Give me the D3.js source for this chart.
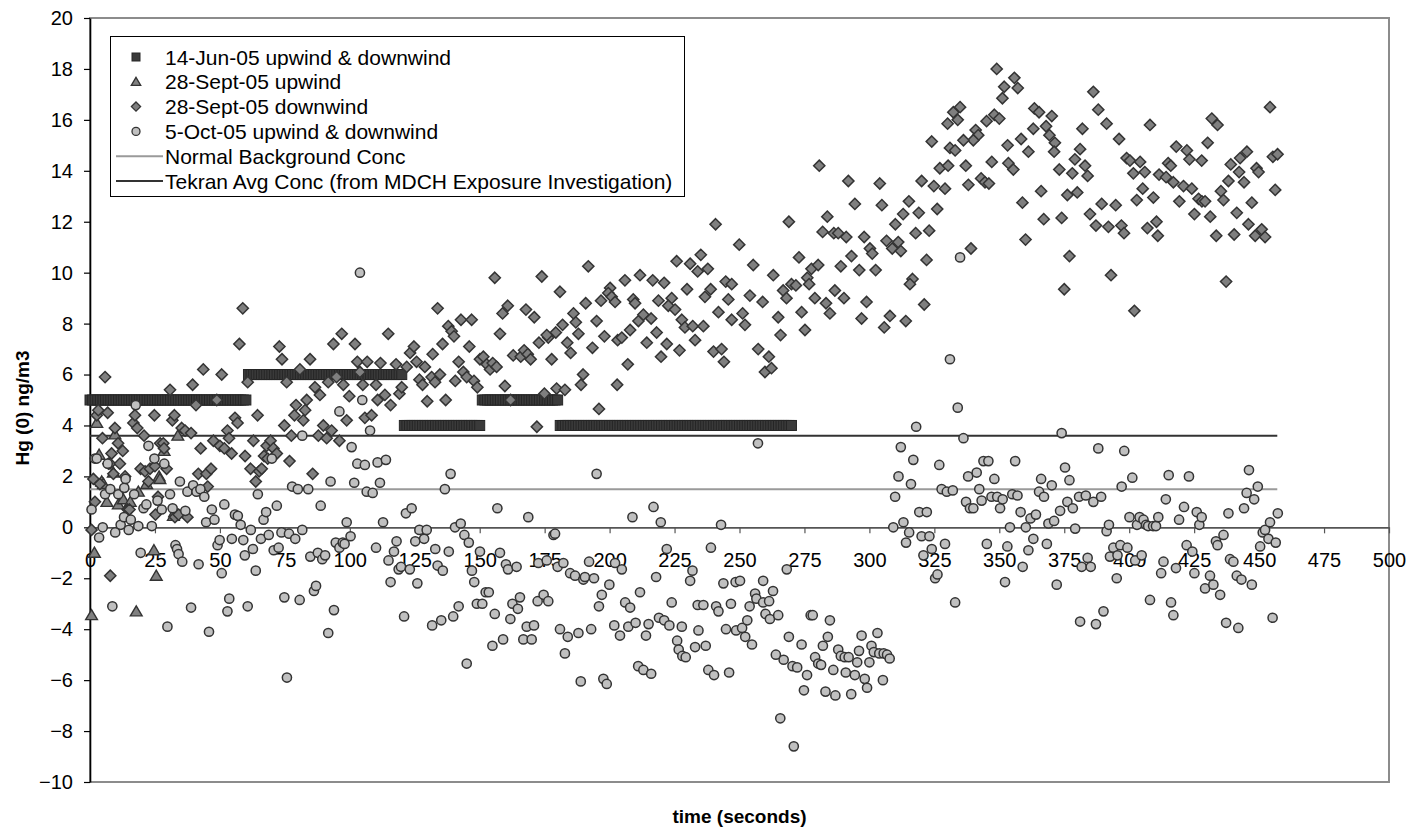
<!DOCTYPE html>
<html>
<head>
<meta charset="utf-8">
<script src="https://cdn.jsdelivr.net/npm/d3@7"></script>
<style>
  body { margin: 0; background: #fff; }
  svg text { font-family: "Liberation Sans", Arial, Helvetica, sans-serif; }
</style>
</head>
<body>
<svg id="chart" width="1408" height="830"></svg>
<script>
// ---------------- data ----------------
const xTicks = [0, 25, 50, 75, 100, 125, 150, 175, 200, 225, 250, 275, 300, 325, 350, 375, 400, 425, 450, 475, 500];
const yTicks = [-10, -8, -6, -4, -2, 0, 2, 4, 6, 8, 10, 12, 14, 16, 18, 20];

const legendLabels = [
  "14-Jun-05 upwind & downwind",
  "28-Sept-05 upwind",
  "28-Sept-05 downwind",
  "5-Oct-05 upwind & downwind",
  "Normal Background Conc",
  "Tekran Avg Conc (from MDCH Exposure Investigation)"
];

// 14-Jun-05: one reading per second, index = time (s)
const jun14Values = [
  5,5,5,5,5,5,5,5,5,5,
  5,5,5,5,5,5,5,5,5,5,
  5,5,5,5,5,5,5,5,5,5,
  5,5,5,5,5,5,5,5,5,5,
  5,5,5,5,5,5,5,5,5,5,
  5,5,5,5,5,5,5,5,5,5,
  5,6,6,6,6,6,6,6,6,6,
  6,6,6,6,6,6,6,6,6,6,
  6,6,6,6,6,6,6,6,6,6,
  6,6,6,6,6,6,6,6,6,6,
  6,6,6,6,6,6,6,6,6,6,
  6,6,6,6,6,6,6,6,6,6,
  6,4,4,4,4,4,4,4,4,4,
  4,4,4,4,4,4,4,4,4,4,
  4,4,4,4,4,4,4,4,4,4,
  4,5,5,5,5,5,5,5,5,5,
  5,5,5,5,5,5,5,5,5,5,
  5,5,5,5,5,5,5,5,5,5,
  5,4,4,4,4,4,4,4,4,4,
  4,4,4,4,4,4,4,4,4,4,
  4,4,4,4,4,4,4,4,4,4,
  4,4,4,4,4,4,4,4,4,4,
  4,4,4,4,4,4,4,4,4,4,
  4,4,4,4,4,4,4,4,4,4,
  4,4,4,4,4,4,4,4,4,4,
  4,4,4,4,4,4,4,4,4,4,
  4,4,4,4,4,4,4,4,4,4,
  4
];

// 28-Sept-05 upwind [time, value]
const sep28Upwind = [
  [0.6,-3.45],[1.7,-1.0],[2.6,4.1],[3.5,2.85],[4.5,1.8],[5.2,1.7],[6.5,1.0],[9.0,2.15],[9.6,3.65],
  [10.9,0.9],[12.8,1.1],[15.5,1.0],[17.8,-3.3],[18.6,1.4],[21.8,1.7],[24.6,-0.9],[25.5,-1.9],
  [26.6,2.0],[26.9,1.9],[28.5,3.0],[32.1,0.45],[32.6,0.6],[33.8,3.6]
];

// 28-Sept-05 downwind [time, value]
const sep28Downwind = [
  [0.6,-0.1],[1.3,1.9],[1.9,1.0],[2.6,4.4],[3.2,4.6],[3.8,1.7],[4.8,3.5],[5.8,5.9],[6.8,4.5],[7.1,2.5],
  [7.7,2.5],[7.8,-1.9],[8.3,2.9],[9.0,2.1],[9.6,3.9],[10.8,3.3],[11.5,2.5],[12.6,3.0],[13.5,2.0],[14.5,0.7],
  [15.2,0.7],[16.7,4.1],[17.3,4.4],[18.2,3.9],[19.5,2.3],[20.8,3.6],[21.2,2.2],[22.5,1.8],[23.1,2.3],[24.8,4.4],
  [25.0,2.4],[25.2,0.5],[26.2,1.2],[27.0,3.3],[28.2,3.3],[28.5,3.1],[29.5,2.3],[30.8,5.4],[31.7,4.2],[32.5,4.4],
  [32.7,0.4],[34.1,0.5],[35.3,3.9],[36.6,3.8],[37.5,0.4],[38.9,3.7],[39.5,5.6],[40.8,4.8],[41.7,2.1],[42.6,3.1],
  [43.6,6.2],[44.8,2.1],[45.3,1.6],[46.6,2.3],[47.5,3.4],[48.8,5.0],[50.0,3.2],[50.7,6.0],[51.7,3.1],[52.9,3.8],
  [53.5,3.5],[54.5,2.9],[55.8,4.3],[56.8,4.1],[57.5,7.2],[58.8,8.6],[59.7,2.8],[60.7,5.7],[61.8,2.3],[62.9,3.4],
  [63.8,1.8],[64.5,4.4],[65.1,2.2],[66.1,2.3],[67.0,2.8],[68.0,3.2],[68.4,2.7],[69.5,3.4],[70.6,3.1],[71.9,2.9],
  [72.9,7.1],[73.9,6.6],[74.8,4.0],[75.7,5.7],[76.8,2.6],[77.5,3.6],[78.7,4.4],[79.3,4.8],[80.8,6.2],
  [84.7,6.6],[83.4,5.0],[86.6,5.5],[88.5,5.2],[82.8,4.6],[82.1,4.2],[89.8,4.0],[87.9,3.6],[91.1,3.5],[93.0,3.8],
  [96.0,3.4],[85.7,2.1],[93.7,7.2],[96.9,7.6],[102.0,7.2],[91.7,5.7],[94.9,5.9],[97.5,5.6],[99.8,5.15],[98.8,4.2],
  [102.9,6.5],[103.9,6.1],[105.0,5.6],[106.7,6.5],[105.8,4.3],[108.4,4.4],[110.1,5.6],[111.8,6.45],[110.7,5.0],[113.5,5.2],
  [115.7,4.8],[114.8,7.6],[117.8,6.4],[119.1,5.25],[120.0,5.5],[121.9,6.3],[123.2,6.85],[124.7,7.1],[125.7,6.5],[126.8,5.8],
  [128.0,5.6],[128.9,6.3],[129.8,4.95],[131.5,5.9],[131.9,6.8],[132.8,5.7],[134.7,6.0],[133.8,8.6],[135.7,7.2],[136.9,5.0],
  [137.9,7.9],[139.2,7.7],[140.1,7.5],[140.6,5.75],[141.9,6.5],[142.8,8.15],[143.7,6.1],[145.0,5.9],[146.0,7.1],[146.9,8.15],
  [147.8,5.75],[149.1,5.5],[150.1,6.6],[151.4,6.7],[152.7,6.4],[154.0,6.2],[155.0,6.45],[156.5,6.3],[157.8,7.6],[158.8,8.4],
  [159.7,5.55],[160.8,8.7],[161.9,5.0],[162.9,6.75],[155.8,9.8],
  [240.8,11.9],[225.8,10.45],[231.0,10.35],[235.1,10.7],[233.9,10.05],[237.8,10.15],[244.7,9.65],[247.0,9.55],[191.8,10.25],[173.9,9.85],
  [180.9,9.25],[205.9,9.7],[211.7,9.9],[216.6,9.7],[221.0,9.6],[200.2,9.4],[199.5,9.2],[200.8,9.05],[202.1,8.85],[167.8,8.55],
  [171.0,8.25],[190.8,8.8],[196.7,8.9],[209.1,8.95],[209.8,8.8],[218.8,8.9],[223.9,9.0],[222.6,8.7],[225.2,8.55],[229.8,9.35],
  [238.9,9.35],[236.7,9.05],[245.7,8.95],[241.9,8.45],[247.0,8.15],[186.1,8.4],[187.0,8.05],[188.0,7.6],[195.0,8.1],[198.0,7.5],
  [181.9,7.95],[179.3,7.65],[176.4,7.45],[175.8,7.55],[172.8,7.25],[183.7,7.25],[185.0,6.85],[165.8,6.7],[167.1,6.95],[168.5,6.8],
  [169.6,6.6],[177.7,6.6],[189.8,6.0],[189.0,5.6],[193.4,7.05],[203.1,7.35],[204.7,7.45],[207.9,7.75],[211.1,8.1],[213.0,8.35],
  [216.0,8.2],[214.3,7.25],[218.1,7.65],[222.0,7.2],[219.8,6.7],[226.9,6.95],[227.8,8.15],[229.0,7.85],[232.0,7.9],[232.9,7.35],
  [236.1,7.9],[240.0,6.9],[243.1,7.0],[244.0,6.5],[207.0,6.4],[202.9,5.6],[174.9,5.25],[179.6,5.45],[182.8,5.4],[195.9,4.65],
  [172.0,3.95],
  [280.7,14.2],[291.9,13.6],[304.0,13.5],[320.1,13.6],[324.8,13.4],[329.1,13.3],[327.1,14.1],[330.3,14.2],[269.0,12.0],[283.8,12.2],
  [294.4,12.7],[304.8,12.65],[315.2,12.8],[313.0,12.3],[319.0,12.35],[326.1,12.5],[310.0,11.9],[323.0,11.65],[317.8,11.55],[282.0,11.6],
  [286.3,11.55],[288.0,11.55],[291.1,11.4],[298.0,11.4],[306.6,11.25],[308.8,10.95],[311.1,11.2],[312.1,10.85],[300.2,10.95],[301.1,10.75],
  [249.9,11.1],[255.3,10.3],[272.9,10.6],[277.7,10.15],[280.3,10.3],[263.0,9.9],[266.8,9.3],[270.0,9.55],[271.7,9.5],[276.1,9.8],
  [276.8,9.55],[289.0,10.25],[293.1,10.65],[296.1,10.1],[302.4,10.1],[322.0,10.5],[316.6,9.75],[315.6,9.55],[254.0,9.1],[258.9,8.85],
  [268.1,9.0],[279.0,9.0],[286.7,9.3],[290.2,9.0],[298.9,8.85],[321.1,8.75],[251.2,8.4],[252.1,7.95],[264.9,8.25],[273.9,8.45],
  [283.3,8.8],[284.8,8.4],[297.0,8.2],[307.9,8.3],[305.7,7.85],[314.0,8.1],[265.8,7.55],[275.2,7.75],[257.2,7.0],[261.3,6.7],
  [259.8,6.1],[262.3,6.25],[324.0,15.15],
  [349.0,18.0],[351.9,17.3],[355.8,17.65],[357.1,17.25],[351.2,16.85],[332.3,16.3],[334.9,16.5],[334.0,16.0],[330.1,15.85],[348.1,16.2],
  [350.0,16.05],[345.1,15.95],[363.5,16.45],[365.3,16.3],[370.2,16.15],[368.0,15.75],[369.3,15.4],[363.1,15.65],[340.9,15.6],[341.9,15.4],
  [340.0,15.2],[336.2,15.2],[331.0,14.9],[333.0,14.8],[358.4,15.25],[353.2,15.0],[361.2,14.75],[371.4,15.1],[371.1,14.75],[382.0,15.65],
  [391.3,15.85],[388.1,16.4],[386.2,17.1],[396.1,15.25],[408.0,15.8],[381.1,14.85],[379.1,14.45],[378.1,13.9],[383.0,14.2],[384.0,13.8],
  [373.1,14.05],[399.0,14.5],[400.3,14.4],[404.2,14.35],[401.6,13.9],[406.0,13.95],[411.5,13.85],[347.1,14.35],[353.5,14.3],[355.4,14.05],
  [337.1,14.2],[343.0,13.7],[344.5,13.55],[346.0,13.5],[338.1,13.45],[366.1,13.2],[376.2,13.05],[380.0,13.15],[358.9,12.75],[367.1,12.1],
  [374.0,12.15],[405.2,13.3],[402.9,12.85],[409.3,12.95],[389.4,12.7],[394.8,12.65],[384.9,12.3],[387.2,11.85],[392.0,11.8],[397.0,11.85],
  [398.0,11.55],[407.0,11.75],[410.5,12.0],[411.0,11.45],[360.1,11.3],[339.1,10.95],[377.0,10.65],[393.0,9.9],[375.0,9.35],[402.0,8.5],
  [454.2,16.5],[431.8,16.05],[434.0,15.8],[430.2,15.1],[418.1,14.95],[422.2,14.8],[423.2,14.45],[427.9,14.4],[415.0,14.3],[416.0,14.2],
  [414.2,13.75],[417.0,13.55],[439.1,14.25],[442.7,14.5],[445.3,14.75],[442.3,13.95],[444.2,13.55],[449.0,14.1],[449.8,13.95],[455.3,14.55],
  [457.1,14.65],[438.2,13.6],[435.3,13.2],[436.3,12.85],[456.2,13.25],[447.2,12.75],[441.4,12.35],[431.2,12.2],[425.1,12.3],[419.3,12.8],
  [420.9,13.4],[424.1,13.3],[426.7,12.9],[428.0,12.8],[429.2,12.8],[445.9,11.9],[448.5,11.45],[451.0,11.7],[452.3,11.4],[433.5,11.45],
  [440.4,11.5],[437.3,9.65]
];

// 5-Oct-05 upwind & downwind [time, value]
const oct5 = [
  [0.6,0.7],[1.9,2.7],[2.6,2.7],[3.5,-0.4],[4.9,0.0],[5.8,1.3],[6.8,2.5],[7.8,1.5],[8.6,-3.1],[9.7,-0.2],
  [10.9,1.3],[11.8,0.1],[13.1,0.4],[13.2,1.55],[13.7,1.9],[14.9,-0.1],[15.7,0.3],[17.0,1.3],[17.6,4.8],[18.6,0.05],
  [19.5,-1.0],[20.6,0.75],[21.7,0.9],[22.5,3.2],[23.8,0.05],[24.8,2.7],[26.0,1.05],[27.6,0.7],[28.6,2.5],[29.8,-3.9],
  [30.8,1.3],[31.8,0.75],[32.9,-0.7],[33.5,-0.85],[34.1,-1.05],[34.6,1.8],[35.5,-1.35],[36.7,0.65],[37.5,1.4],[38.9,-3.15],
  [39.7,1.65],[41.0,1.4],[41.8,-1.45],[42.5,1.5],[44.0,1.2],[44.7,0.2],[45.8,-4.1],[46.9,0.7],[47.9,0.3],[49.1,-0.7],
  [49.9,-0.5],[50.7,-1.8],[51.7,0.9],[52.9,-3.3],[53.6,-2.8],[54.6,-0.45],[55.8,0.5],[56.9,0.45],[58.0,0.1],[59.0,-0.5],
  [59.6,-1.1],[60.7,-3.1],[61.9,-0.1],[62.7,-0.85],[63.8,-1.7],[64.6,1.3],[65.8,-0.45],[66.8,0.3],[67.8,0.6],[68.8,-0.3],
  [70.0,2.7],[70.7,-0.9],[71.9,0.85],[72.6,-0.8],[73.7,-0.2],[74.8,-2.75],[75.8,-5.9],[76.6,-0.25],[77.8,1.6],[79.0,-0.45],
  [80.0,1.5],[80.7,-2.85],[81.7,3.6],[81.7,-0.1],
  [84.0,1.5],[84.8,-1.15],[86.2,-2.5],[87.0,-2.3],[87.7,-1.0],[88.8,0.85],[89.4,-1.25],[90.5,-1.1],[91.7,-4.15],[92.6,1.8],
  [93.9,-3.25],[94.6,-0.6],[96.0,4.55],[96.0,-0.8],[97.3,-0.6],[98.0,-0.65],[98.8,0.2],[100.3,-0.35],[100.7,3.15],[101.7,1.75],
  [102.9,2.5],[103.9,10.0],[104.8,5.0],[105.8,2.45],[106.5,1.4],[107.8,3.8],[108.8,1.35],[110.1,-0.8],[110.7,2.55],[111.6,1.75],
  [112.8,0.2],[113.9,2.65],[114.9,-1.3],[115.7,-2.15],[117.0,-0.95],[118.0,-0.55],[118.8,-1.65],[119.7,-1.55],[120.9,-3.5],[121.6,0.55],
  [123.1,-1.65],[123.8,0.75],[125.2,-0.55],[126.0,-2.2],[126.8,-0.1],[128.6,-0.45],[129.6,-0.1],[131.7,-3.85],[132.9,-0.85],[133.8,-1.5],
  [135.2,-3.65],[135.8,-1.7],[136.6,1.5],[138.1,-0.95],[138.8,2.1],[139.8,-3.5],[140.5,0.0],[141.9,-3.1],[142.7,0.15],[144.1,-0.3],
  [145.0,-5.35],[145.8,-0.6],[147.0,-1.7],[147.9,-2.15],[148.9,-3.0],[150.1,-0.95],[151.0,-3.0],[152.3,-2.55],[153.5,-2.55],[154.9,-4.65],
  [155.8,-3.4],[156.8,0.75],[157.8,-1.0],[159.0,-4.4],[160.1,-1.45],[160.9,-1.65],[161.8,-3.6],[162.6,-3.0],[164.2,-1.55],[164.7,-3.2],
  [165.5,-2.75],[166.8,-4.4],[168.1,-3.9],[168.7,0.4],[170.0,-4.4],[170.9,-3.85],[172.3,-2.9],[172.6,-1.4],[174.6,-2.65],[175.8,-1.3],
  [176.4,-2.9],[178.4,-0.3],[179.0,-0.25],[180.0,-1.55],[180.9,-4.0],[182.2,-1.4],[182.8,-4.95],[183.9,-4.3],[184.8,-1.8],[186.7,-1.9],
  [188.0,-4.15],[188.9,-6.05],[189.9,-2.05],[190.5,-1.95],[192.1,-1.35],[192.9,-4.0],[194.0,-2.0],[195.0,2.1],[195.9,-3.1],[197.0,-2.65],
  [197.6,-5.95],[198.9,-6.15],[199.9,-2.25],[201.8,-3.85],[202.1,-1.4],[204.0,-4.25],[204.7,-1.65],[206.0,-2.95],[207.2,-3.9],[207.9,-3.15],
  [208.8,0.4],[210.0,-3.75],[211.0,-5.45],[211.7,-2.55],[213.0,-5.6],[214.0,-4.25],[215.0,-3.8],[216.0,-5.75],[216.9,0.8],[217.9,-1.95],
  [219.0,-3.55],[219.7,0.2],[221.0,-3.65],[222.0,-0.85],[223.0,-3.85],[223.9,-2.95],[226.0,-4.45],[226.6,-4.8],[227.8,-3.9],[228.0,-5.05],
  [229.3,-5.1],[231.0,-2.1],[231.9,-1.7],[232.9,-4.7],[233.9,-3.05],[234.2,-4.05],[236.1,-3.05],[237.0,-4.65],[238.0,-5.6],[239.0,-0.8],
  [240.2,-5.8],[241.0,-3.1],[241.9,-3.3],[242.9,0.1],[243.8,-2.2],[244.8,-4.0],[246.0,-5.7],[246.7,-3.0],[248.5,-2.15],[248.7,-4.05],
  [250.2,-2.1],[251.0,-3.95],
  [252.2,-4.3],[253.0,-3.65],[253.9,-3.1],[254.8,-4.6],[256.0,-2.6],[256.5,-2.8],[257.1,3.3],[259.1,-2.1],[259.1,-2.95],[260.0,-3.4],
  [261.4,-2.9],[261.7,-3.6],[262.9,-2.5],[264.0,-5.0],[264.9,-3.45],[265.7,-7.5],[267.0,-5.2],[268.2,-1.65],[269.0,-4.3],[270.4,-5.45],
  [270.9,-8.6],[272.2,-5.5],[273.9,-4.6],[274.8,-6.4],[276.0,-5.8],[277.4,-3.45],[278.2,-3.45],[279.1,-5.1],[280.3,-5.35],[281.4,-5.4],
  [282.1,-4.65],[283.1,-6.45],[284.0,-4.3],[284.8,-3.65],[286.1,-5.6],[286.9,-6.6],[288.0,-4.8],[289.0,-5.05],[290.5,-5.1],[290.9,-5.7],
  [292.0,-5.1],[293.0,-6.55],[294.4,-5.8],[295.3,-5.3],[296.0,-4.85],[297.0,-4.25],[298.2,-5.95],[299.1,-6.3],[300.0,-5.3],[300.8,-4.65],
  [301.7,-4.9],[303.1,-4.15],[303.8,-4.95],[305.2,-6.0],[305.5,-4.95],[306.8,-5.0],[307.8,-5.15],
  [309.2,0.0],[309.9,1.2],[311.2,2.0],[312.1,3.15],[313.1,0.2],[314.1,-0.6],[315.3,-0.2],[316.0,1.7],[316.9,2.65],[318.0,3.95],
  [319.2,0.6],[320.1,-0.35],[320.8,-1.1],[322.1,0.6],[323.1,-0.35],[324.0,-0.85],[325.3,-2.0],[326.2,-1.85],[326.9,2.45],[327.8,1.5],
  [329.1,-0.65],[329.8,1.4],[331.0,6.6],[332.1,1.45],[333.0,-2.95],[334.0,4.7],[334.9,10.6],[336.2,3.5],[337.2,1.0],[338.0,2.0],
  [338.7,0.75],[340.0,0.75],[341.3,2.15],[342.3,1.5],[343.2,1.05],[343.9,2.6],[345.2,-0.65],[345.8,2.6],[347.0,1.2],[348.1,1.9],
  [349.2,1.2],[350.3,0.75],[351.3,1.1],[352.2,-2.15],[353.1,-0.75],[354.1,0.0],[355.0,1.3],[356.1,2.6],[357.0,1.25],[358.2,0.6],
  [359.0,-1.55],[360.2,0.0],[361.2,-0.9],[362.0,0.35],[363.1,-0.45],[364.1,0.5],[365.3,1.4],[366.1,1.9],[367.2,1.2],[368.3,-0.65],
  [368.9,0.15],[370.2,1.65],[371.1,0.25],[372.1,-2.25],[373.4,0.65],[374.0,3.7],[375.3,2.35],[376.2,1.0],[377.0,1.85],[378.3,0.75],
  [379.2,-0.05],[380.7,1.2],[381.1,-3.7],[381.7,-1.55],[383.3,1.25],[384.0,-1.2],[385.2,-1.55],[386.2,1.0],[387.2,-3.8],[388.1,3.1],
  [389.2,1.2],[390.1,-3.3],[391.3,-0.15],[392.2,0.1],[392.6,-1.15],[393.9,-0.8],[395.2,-2.0],[395.5,-1.1],[396.6,-0.7],[397.1,1.6],
  [398.1,3.0],[399.3,-0.8],[400.1,0.4],[401.2,1.95],[402.3,-1.3],[403.0,0.1],[404.0,0.4],[404.8,-1.1],[405.5,0.3],[406.5,0.1],
  [407.3,0.05],[408.0,-2.85],[409.2,0.05],[410.3,0.05],[411.2,0.4],[412.3,-1.8],[413.2,-1.35],[414.1,1.1],[415.2,2.05],[416.1,-2.95],
  [417.0,-3.45],[418.0,-1.6],[419.2,0.3],[421.1,0.8],[422.1,-0.7],[423.0,2.0],[424.3,-0.95],[425.1,-1.8],[426.0,0.6],[427.0,0.1],
  [427.9,0.4],[429.2,-2.4],[431.1,-1.9],[432.4,-2.25],[433.4,-0.55],[434.0,-0.7],[435.0,-2.65],[436.3,-0.3],[437.3,-3.75],[438.2,0.55],
  [438.8,-1.25],[440.1,-1.35],[441.4,-1.9],[442.0,-3.95],[443.2,-2.05],[444.2,0.75],[445.2,1.35],[446.1,2.25],[447.2,-2.25],[448.1,1.1],
  [449.5,1.6],[450.4,-0.75],[451.4,-0.2],[452.3,-0.1],[453.6,-0.45],[454.2,0.2],[455.2,-3.55],[456.4,-0.6],[457.2,0.55]
];

// reference lines [time, value]
const normalBackground = [[0, 1.5], [457, 1.5]];
const tekranAvg = [[0, 3.6], [457, 3.6]];

// ---------------- drawing ----------------
const FONT = '"Liberation Sans", Arial, Helvetica, sans-serif';
const svg = d3.select("#chart");
svg.append("rect").attr("width", 1408).attr("height", 830).attr("fill", "#fff");

const x = d3.scaleLinear().domain([0, 500]).range([90, 1389]);
const y = d3.scaleLinear().domain([-10, 20]).range([782, 18]);

// plot area border
svg.append("rect")
  .attr("x", x(0)).attr("y", y(20))
  .attr("width", x(500) - x(0)).attr("height", y(-10) - y(20))
  .attr("fill", "none").attr("stroke", "#8c8c8c").attr("stroke-width", 2);

// x axis through y = 0
const gx = svg.append("g")
  .attr("transform", `translate(0,${y(0)})`)
  .call(d3.axisBottom(x).tickValues(xTicks).tickSize(6).tickSizeOuter(0).tickPadding(19).tickFormat(d3.format("d")));
gx.attr("font-family", FONT).attr("font-size", 20);
gx.select(".domain").attr("stroke", "#555").attr("stroke-width", 1.6);
gx.selectAll(".tick line").attr("stroke", "#555").attr("stroke-width", 1.2);
gx.selectAll(".tick text").attr("fill", "#000");

// y axis
const gy = svg.append("g")
  .attr("transform", `translate(${x(0)},0)`)
  .call(d3.axisLeft(y).tickValues(yTicks).tickSize(6).tickSizeOuter(0).tickPadding(11).tickFormat(d3.format("d")));
gy.attr("font-family", FONT).attr("font-size", 20);
gy.select(".domain").attr("stroke", "#000").attr("stroke-width", 1.6);
gy.selectAll(".tick line").attr("stroke", "#000").attr("stroke-width", 1.2);
gy.selectAll(".tick text").attr("fill", "#000");

// axis titles
svg.append("text")
  .attr("transform", `translate(29,${(y(20) + y(-10)) / 2 + 8}) rotate(-90)`)
  .attr("text-anchor", "middle").attr("font-family", FONT)
  .attr("font-size", 19).attr("font-weight", "bold").text("Hg (0) ng/m3");
svg.append("text")
  .attr("x", (x(0) + x(500)) / 2).attr("y", 823)
  .attr("text-anchor", "middle").attr("font-family", FONT)
  .attr("font-size", 19).attr("font-weight", "bold").text("time (seconds)");

// reference lines
const line = d3.line().x(d => x(d[0])).y(d => y(d[1]));
svg.append("path").datum(normalBackground).attr("d", line)
  .attr("fill", "none").attr("stroke", "#9a9a9a").attr("stroke-width", 2);
svg.append("path").datum(tekranAvg).attr("d", line)
  .attr("fill", "none").attr("stroke", "#333").attr("stroke-width", 2);

// marker helpers
const diamondPath = s => `M0,${-s}L${s},0L0,${s}L${-s},0Z`;
const trianglePath = s => `M0,${-s}L${s * 1.05},${s * 0.8}L${-s * 1.05},${s * 0.8}Z`;

// 14-Jun-05 squares
const jun14 = jun14Values.map((v, i) => [i, v]);
svg.append("g").selectAll("rect").data(jun14).join("rect")
  .attr("x", d => x(d[0]) - 5).attr("y", d => y(d[1]) - 5)
  .attr("width", 10).attr("height", 10)
  .attr("fill", "#3a3a3a").attr("stroke", "#262626").attr("stroke-width", 1);

// 28-Sept-05 upwind triangles
svg.append("g").selectAll("path").data(sep28Upwind).join("path")
  .attr("transform", d => `translate(${x(d[0])},${y(d[1])})`)
  .attr("d", trianglePath(5.6))
  .attr("fill", "#808080").attr("stroke", "#333").attr("stroke-width", 1.4);

// 28-Sept-05 downwind diamonds
svg.append("g").selectAll("path").data(sep28Downwind).join("path")
  .attr("transform", d => `translate(${x(d[0])},${y(d[1])})`)
  .attr("d", diamondPath(5.6))
  .attr("fill", "#7f7f7f").attr("stroke", "#333").attr("stroke-width", 1.5);

// 5-Oct-05 circles
svg.append("g").selectAll("circle").data(oct5).join("circle")
  .attr("cx", d => x(d[0])).attr("cy", d => y(d[1])).attr("r", 4.6)
  .attr("fill", "#c0c0c0").attr("stroke", "#333").attr("stroke-width", 1.5);

// legend
const lg = svg.append("g");
lg.append("rect").attr("x", 110.5).attr("y", 36.5).attr("width", 574).attr("height", 160)
  .attr("fill", "#fff").attr("stroke", "#000").attr("stroke-width", 1);
const rowY = i => 57 + i * 24.8;
const mx = 136;
lg.append("rect").attr("x", mx - 4).attr("y", rowY(0) - 4).attr("width", 8).attr("height", 8)
  .attr("fill", "#3a3a3a").attr("stroke", "#262626");
lg.append("path").attr("transform", `translate(${mx},${rowY(1)})`).attr("d", trianglePath(4.5))
  .attr("fill", "#808080").attr("stroke", "#333").attr("stroke-width", 1.3);
lg.append("path").attr("transform", `translate(${mx},${rowY(2)})`).attr("d", diamondPath(4.6))
  .attr("fill", "#7f7f7f").attr("stroke", "#333").attr("stroke-width", 1.3);
lg.append("circle").attr("cx", mx).attr("cy", rowY(3)).attr("r", 4)
  .attr("fill", "#c0c0c0").attr("stroke", "#333").attr("stroke-width", 1.3);
lg.append("line").attr("x1", 116).attr("x2", 163).attr("y1", rowY(4)).attr("y2", rowY(4))
  .attr("stroke", "#9a9a9a").attr("stroke-width", 2);
lg.append("line").attr("x1", 116).attr("x2", 163).attr("y1", rowY(5)).attr("y2", rowY(5))
  .attr("stroke", "#333").attr("stroke-width", 2);
lg.selectAll("text.lab").data(legendLabels).join("text").attr("class", "lab")
  .attr("x", 165).attr("y", (d, i) => rowY(i)).attr("dy", "0.36em")
  .attr("font-family", FONT).attr("font-size", 21).attr("fill", "#000")
  .text(d => d);
</script>
</body>
</html>
